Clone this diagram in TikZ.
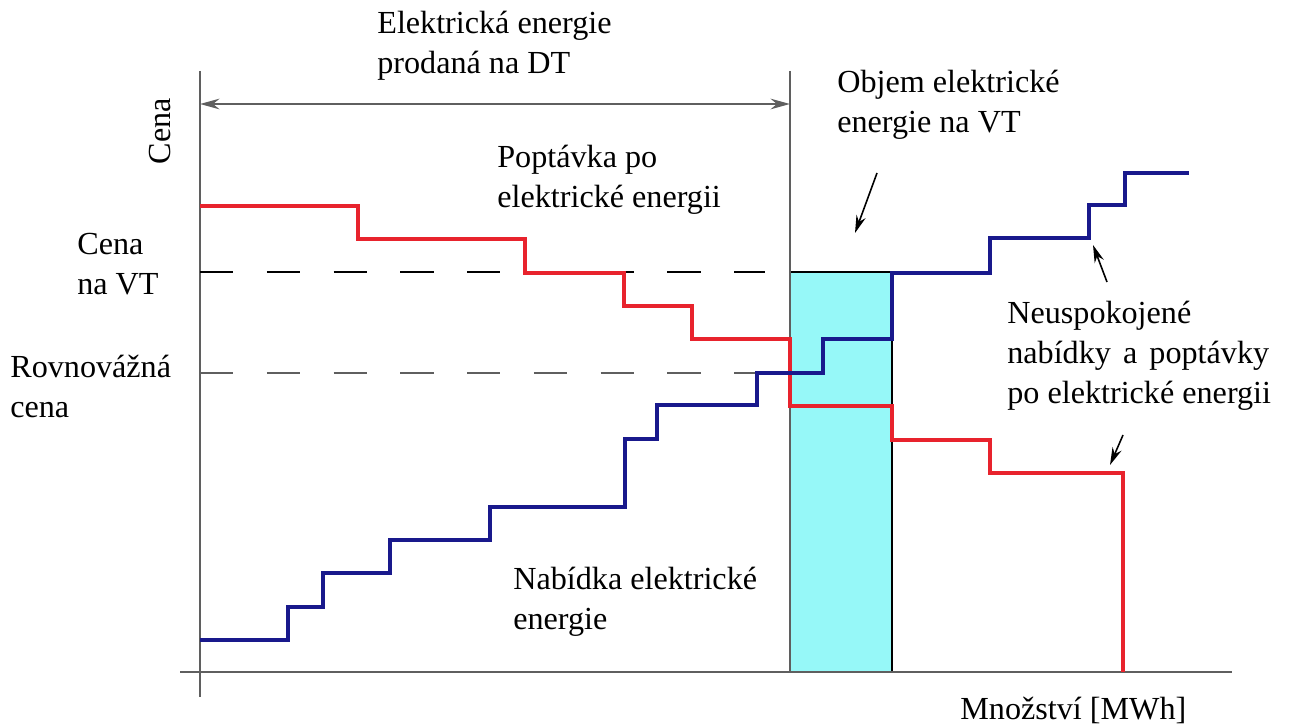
\documentclass[tikz,border=0pt]{standalone}
\usepackage{fontspec}
\setmainfont{LiberationSerif}[Extension=.ttf, UprightFont=*-Regular, BoldFont=*-Bold]
\usetikzlibrary{arrows.meta}

\definecolor{nabidka}{RGB}{25,25,140}
\definecolor{poptavka}{RGB}{232,35,45}
\definecolor{objem}{RGB}{150,248,248}
\definecolor{osa}{RGB}{95,95,95}

\tikzset{
  txt/.style={anchor=north west, inner sep=0pt, align=left, font=\fontsize{18.3}{22.6}\selectfont},
  krivka/.style={line width=2.1pt},
  carka/.style={line width=1.3pt, dash pattern=on 19pt off 19pt},
  sipka/.style={-{Stealth[length=10pt,width=5.5pt]}, line width=0.9pt}
}

\begin{document}
\begin{tikzpicture}[x=0.02cm,y=-0.02cm]
\useasboundingbox (0,0) rectangle (1293,726);

% objem na VT
\fill[objem] (790,272) rectangle (892,672);
\draw[line width=1pt] (790,272) rectangle (892,672);

% osy
\draw[osa, line width=1.3pt] (180,672) -- (1232,672);
\draw[osa, line width=1.3pt] (200,71) -- (200,697);
\draw[osa, line width=1.3pt] (790,71) -- (790,672);
\coordinate (dtl) at (200,104);
\coordinate (dtr) at (790,104);
\draw[osa, line width=1.5pt, {Stealth[length=11pt,width=6pt]}-{Stealth[length=11pt,width=6pt]}] (dtl) -- (dtr);

% ceny
\draw[carka, black] (200,272) -- (765,272);
\draw[carka, osa] (200,373) -- (757,373);

% krivky
\draw[krivka, poptavka] (200,206) -| (358,239) -| (525,273) -| (624,306) -| (692,339)
  -| (790,406) -| (892,440) -| (990,473) -| (1123,672);
\draw[krivka, nabidka] (200,640) -| (288,607) -| (323,573) -| (390,540) -| (490,507)
  -| (625,439) -| (657,405) -| (757,373) -| (823,339) -| (892,273) -| (990,238)
  -| (1089,205) -| (1125,173) -- (1189,173);

% popisky
\node[txt] (elek) at (377,11) {Elektrická energie\\prodaná na DT};
\node[txt, anchor=center, rotate=90] (cena) at (160,131) {Cena};
\node[txt] (popt) at (497,145) {Poptávka po\\elektrické energii};
\node[txt] (objemtxt) at (837,70) {Objem elektrické\\energie na VT};
\node[txt] (cenavt) at (77,233) {Cena\\na VT};
\node[txt] (rovn) at (10,355) {Rovnovážná\\cena};
\node[txt] (neusp) at (1007,301) {Neuspokojené\\\makebox[149pt][s]{nabídky a poptávky}\\po elektrické energii};
\node[txt] (nab) at (513,567) {Nabídka elektrické\\energie};
\node[txt] (mnoz) at (960,697) {Množství [MWh]};

% sipky
\coordinate (o1) at (877,173);
\coordinate (o2) at (855,233);
\coordinate (n1) at (1107,282);
\coordinate (n2) at (1093,245);
\coordinate (n3) at (1123,435);
\coordinate (n4) at (1110,465);
\draw[sipka] (o1) -- (o2);
\draw[sipka] (n1) -- (n2);
\draw[sipka] (n3) -- (n4);
\end{tikzpicture}
\end{document}
